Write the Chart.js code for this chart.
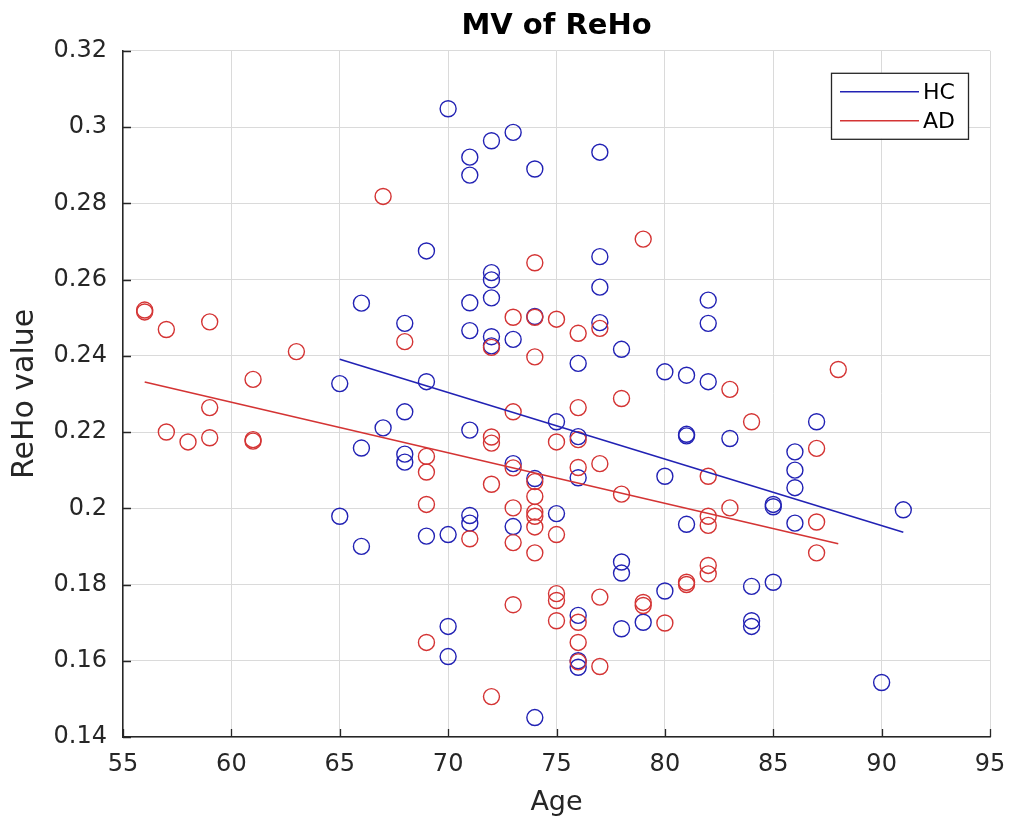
<!DOCTYPE html>
<html>
<head>
<meta charset="utf-8">
<title>MV of ReHo</title>
<script src="https://cdn.jsdelivr.net/npm/chart.js@4/dist/chart.umd.min.js"></script>
<style>
  html, body { margin: 0; padding: 0; background: #ffffff; }
  #wrap { width: 1009px; height: 821px; }
</style>
</head>
<body>
<div id="wrap"><canvas id="c" width="1009" height="821"></canvas></div>
<script>
// Healthy controls (HC): age and mean ReHo value per subject
const hcAge = [
  65, 65,
  66, 66, 66,
  67,
  68, 68, 68, 68,
  69, 69, 69,
  70, 70, 70, 70,
  71, 71, 71, 71, 71, 71, 71,
  72, 72, 72, 72, 72, 72,
  73, 73, 73, 73,
  74, 74, 74, 74,
  75, 75,
  76, 76, 76, 76, 76, 76,
  77, 77, 77, 77,
  78, 78, 78, 78,
  79,
  80, 80, 80,
  81, 81, 81, 81,
  82, 82, 82,
  83,
  84, 84, 84,
  85, 85, 85,
  86, 86, 86, 86,
  87,
  90,
  91
];
const hcReHo = [
  0.2327, 0.1979,
  0.2538, 0.2158, 0.1900,
  0.2211,
  0.2485, 0.2253, 0.2142, 0.2121,
  0.2675, 0.2332, 0.1927,
  0.3048, 0.1931, 0.1690, 0.1611,
  0.2921, 0.2874, 0.2539, 0.2466, 0.2205, 0.1981, 0.1961,
  0.2964, 0.2618, 0.2599, 0.2552, 0.2450, 0.2426,
  0.2986, 0.2443, 0.2117, 0.1952,
  0.2890, 0.2503, 0.2078, 0.1451,
  0.2227, 0.1986,
  0.2380, 0.2188, 0.2080, 0.1719, 0.1600, 0.1583,
  0.2934, 0.2660, 0.2580, 0.2487,
  0.2417, 0.1859, 0.1830, 0.1684,
  0.1701,
  0.2358, 0.2084, 0.1783,
  0.2349, 0.2194, 0.2190, 0.1958,
  0.2546, 0.2485, 0.2332,
  0.2183,
  0.1795, 0.1705, 0.1690,
  0.2010, 0.2004, 0.1806,
  0.2148, 0.2100, 0.2054, 0.1961,
  0.2227,
  0.1543,
  0.1996
];

// Alzheimer's disease group (AD)
const adAge = [
  56, 56,
  57, 57,
  58,
  59, 59, 59,
  61, 61, 61,
  63,
  67,
  68,
  69, 69, 69, 69,
  71,
  72, 72, 72, 72, 72,
  73, 73, 73, 73, 73, 73,
  74, 74, 74, 74, 74, 74, 74, 74, 74,
  75, 75, 75, 75, 75, 75,
  76, 76, 76, 76, 76, 76, 76,
  77, 77, 77, 77,
  78, 78,
  79, 79, 79,
  80,
  81, 81,
  82, 82, 82, 82, 82,
  83, 83,
  84,
  87, 87, 87,
  88
];
const adReHo = [
  0.2520, 0.2515,
  0.2469, 0.2200,
  0.2174,
  0.2489, 0.2264, 0.2185,
  0.2338, 0.2180, 0.2176,
  0.2411,
  0.2818,
  0.2437,
  0.2136, 0.2095, 0.2010, 0.1648,
  0.1920,
  0.2422, 0.2187, 0.2171, 0.2063, 0.1506,
  0.2501, 0.2253, 0.2106, 0.2001, 0.1910, 0.1747,
  0.2644, 0.2501, 0.2397, 0.2070, 0.2031, 0.1990, 0.1979, 0.1951, 0.1883,
  0.2496, 0.2174, 0.1931, 0.1776, 0.1758, 0.1705,
  0.2459, 0.2264, 0.2180, 0.2107, 0.1701, 0.1648, 0.1597,
  0.2472, 0.2117, 0.1767, 0.1585,
  0.2288, 0.2037,
  0.2706, 0.1753, 0.1745,
  0.1699,
  0.1806, 0.1800,
  0.2084, 0.1979, 0.1955, 0.1850, 0.1828,
  0.2312, 0.2001,
  0.2227,
  0.2157, 0.1964, 0.1883,
  0.2364
];

// Linear fit endpoints for each group
const hcFitAge = [65, 91];
const hcFitReHo = [0.2391, 0.1937];
const adFitAge = [56, 88];
const adFitReHo = [0.2331, 0.1907];

// Axis ticks
const xTicks = [55, 60, 65, 70, 75, 80, 85, 90, 95];
const yTicks = [0.14, 0.16, 0.18, 0.2, 0.22, 0.24, 0.26, 0.28, 0.3, 0.32];

const BLUE = '#2222b4';
const RED = '#d43434';
const AXIS = '#262626';
const GRID = '#dadada';
const FONT = "'DejaVu Sans', 'Liberation Sans', sans-serif";

const toPoints = (xs, ys) => xs.map((x, i) => ({ x: x, y: ys[i] }));

// Inward tick marks on the left and bottom axes
const inwardTicks = {
  id: 'inwardTicks',
  afterDatasetsDraw(chart) {
    const { ctx, chartArea, scales } = chart;
    ctx.save();
    ctx.strokeStyle = AXIS;
    ctx.lineWidth = 1.3;
    const len = 8;
    ctx.beginPath();
    xTicks.forEach(v => {
      const px = Math.round(scales.x.getPixelForValue(v)) + 0.5;
      ctx.moveTo(px, chartArea.bottom);
      ctx.lineTo(px, chartArea.bottom - len);
    });
    yTicks.forEach(v => {
      const py = Math.round(scales.y.getPixelForValue(v)) + 0.5;
      ctx.moveTo(chartArea.left, py);
      ctx.lineTo(chartArea.left + len, py);
    });
    ctx.stroke();
    ctx.restore();
  }
};

// Boxed legend in the upper-right corner, listing the fit lines
const boxLegend = {
  id: 'boxLegend',
  afterDraw(chart) {
    const { ctx, chartArea } = chart;
    const items = chart.data.datasets.filter(d => d.inLegend);
    const boxW = 137, rowH = 29;
    const boxH = items.length * rowH + 8;
    const right = chartArea.right - 22;
    const left = right - boxW;
    const top = chartArea.top + 22;
    ctx.save();
    ctx.fillStyle = '#ffffff';
    ctx.fillRect(left, top, boxW, boxH);
    ctx.strokeStyle = AXIS;
    ctx.lineWidth = 1.3;
    ctx.strokeRect(left + 0.5, top + 0.5, boxW, boxH);
    ctx.font = '22px ' + FONT;
    ctx.textBaseline = 'middle';
    ctx.textAlign = 'left';
    items.forEach((d, i) => {
      const cy = top + 19 + i * rowH;
      ctx.strokeStyle = d.borderColor;
      ctx.lineWidth = 1.4;
      ctx.beginPath();
      ctx.moveTo(left + 9, cy);
      ctx.lineTo(left + 88, cy);
      ctx.stroke();
      ctx.fillStyle = '#000000';
      ctx.fillText(d.label, left + 92, cy + 1);
    });
    ctx.restore();
  }
};

new Chart(document.getElementById('c'), {
  type: 'scatter',
  data: {
    datasets: [
      {
        label: 'HC subjects',
        data: toPoints(hcAge, hcReHo),
        pointStyle: 'circle',
        pointRadius: 8,
        borderColor: BLUE,
        backgroundColor: 'rgba(0,0,0,0)',
        borderWidth: 1.4,
        order: 2
      },
      {
        label: 'AD subjects',
        data: toPoints(adAge, adReHo),
        pointStyle: 'circle',
        pointRadius: 8,
        borderColor: RED,
        backgroundColor: 'rgba(0,0,0,0)',
        borderWidth: 1.4,
        order: 1
      },
      {
        label: 'HC',
        inLegend: true,
        data: toPoints(hcFitAge, hcFitReHo),
        showLine: true,
        pointRadius: 0,
        borderColor: BLUE,
        borderWidth: 1.6,
        order: 0
      },
      {
        label: 'AD',
        inLegend: true,
        data: toPoints(adFitAge, adFitReHo),
        showLine: true,
        pointRadius: 0,
        borderColor: RED,
        borderWidth: 1.6,
        order: 0
      }
    ]
  },
  options: {
    responsive: false,
    animation: false,
    events: [],
    layout: { padding: { left: 0, right: 19, top: 0, bottom: 0 } },
    plugins: {
      legend: { display: false },
      tooltip: { enabled: false },
      title: {
        display: true,
        text: 'MV of ReHo',
        fullSize: false,
        color: '#000000',
        font: { family: FONT, size: 29, weight: 'bold', lineHeight: 1.2 },
        padding: { top: 9, bottom: 7 }
      }
    },
    scales: {
      x: {
        type: 'linear',
        min: 55,
        max: 95,
        afterBuildTicks: s => { s.ticks = xTicks.map(v => ({ value: v })); },
        afterFit: s => { s.height = 84; s.paddingLeft = 0; s.paddingRight = 0; },
        ticks: {
          color: AXIS,
          font: { family: FONT, size: 24 },
          padding: 13,
          maxRotation: 0,
          callback: v => String(v)
        },
        grid: { color: GRID, lineWidth: 1, drawTicks: false },
        border: { display: true, color: AXIS, width: 1.5 },
        title: {
          display: true,
          text: 'Age',
          color: AXIS,
          font: { family: FONT, size: 27, lineHeight: 1.2 },
          padding: { top: 0, bottom: 2 }
        }
      },
      y: {
        type: 'linear',
        min: 0.14,
        max: 0.32,
        afterBuildTicks: s => { s.ticks = yTicks.map(v => ({ value: v })); },
        afterFit: s => { s.width = 123; },
        ticks: {
          color: AXIS,
          font: { family: FONT, size: 24 },
          padding: 16,
          callback: v => String(v)
        },
        grid: { color: GRID, lineWidth: 1, drawTicks: false },
        border: { display: true, color: AXIS, width: 1.5 },
        title: {
          display: true,
          text: 'ReHo value',
          color: AXIS,
          font: { family: FONT, size: 30, lineHeight: 1.2 },
          padding: { top: 7, bottom: 0 }
        }
      }
    }
  },
  plugins: [inwardTicks, boxLegend]
});
</script>
</body>
</html>
